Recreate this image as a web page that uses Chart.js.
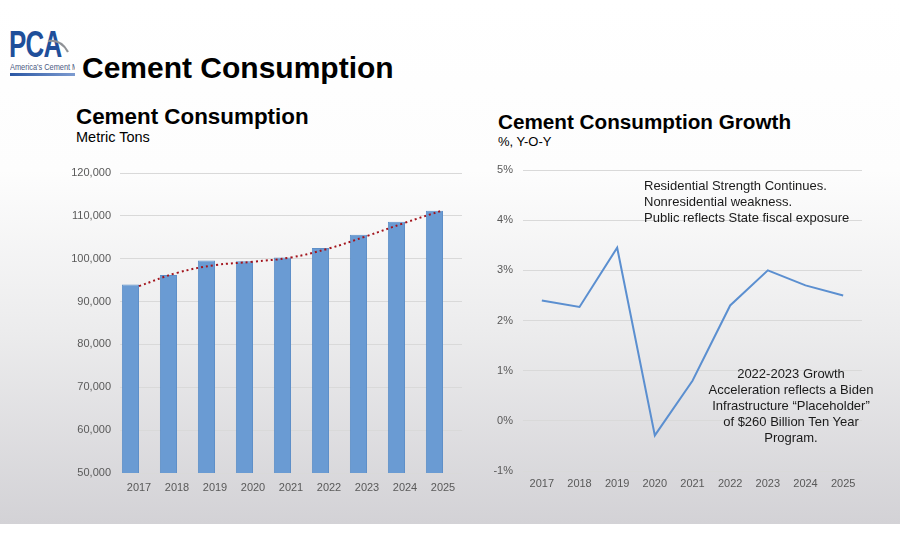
<!DOCTYPE html>
<html>
<head>
<meta charset="utf-8">
<script src="https://cdn.jsdelivr.net/npm/chart.js@4/dist/chart.umd.min.js"></script>
<style>
  body { margin: 0; background: #fff; font-family: "Liberation Sans", Arial, sans-serif; }
  #slide { position: relative; width: 900px; height: 550px; overflow: hidden; background: #fff; }
  #bg { position: absolute; left: 0; top: 0; width: 900px; height: 524px;
        background: linear-gradient(to bottom, #ffffff 0px, #fdfdfd 170px, #ececed 330px, #d3d2d6 524px); }
  .txt { position: absolute; white-space: nowrap; color: #000; }
  canvas { position: absolute; }
  .note { position: absolute; font-size: 13px; line-height: 16px; color: #1a1a1a; white-space: nowrap; }
</style>
</head>
<body>
<div id="slide">
  <div id="bg"></div>

  <!-- logo -->
  <div class="txt" style="left:9px;top:24px;font-size:37px;font-weight:bold;color:#1f4f9a;transform:scaleX(0.7);transform-origin:left top;letter-spacing:-1px;">PCA</div>
  <svg style="position:absolute;left:46px;top:36px" width="26" height="22">
    <path d="M2 5 Q15 3 22 16" stroke="#8f9296" stroke-width="2.2" fill="none"/>
  </svg>
  <div style="position:absolute;left:10px;top:62px;width:65px;height:11px;overflow:hidden;">
    <div class="txt" style="left:0;top:0;font-size:9px;color:#4b5a82;transform:scaleX(0.82);transform-origin:left top;">America's Cement Manufacturers</div>
  </div>
  <div style="position:absolute;left:10px;top:73px;width:65px;height:3px;background:linear-gradient(to right,#2a57a4,#7d9bd0);"></div>

  <div class="txt" style="left:82px;top:53px;font-size:30px;line-height:30px;font-weight:bold;">Cement Consumption</div>

  <div class="txt" style="left:76px;top:106px;font-size:22.4px;line-height:22px;font-weight:bold;">Cement Consumption</div>
  <div class="txt" style="left:76px;top:130px;font-size:14.5px;line-height:15px;">Metric Tons</div>

  <div class="txt" style="left:498px;top:111px;font-size:20.7px;line-height:21px;font-weight:bold;">Cement Consumption Growth</div>
  <div class="txt" style="left:498px;top:135px;font-size:13px;line-height:13px;">%, Y-O-Y</div>

  <canvas id="consumptionChart" width="470" height="353" style="left:0;top:150px;"></canvas>
  <canvas id="growthChart" width="420" height="351" style="left:470px;top:150px;"></canvas>

  <div class="note" style="left:644px;top:178px;">Residential Strength Continues.<br>Nonresidential weakness.<br>Public reflects State fiscal exposure</div>
  <div class="note" style="left:691px;top:366px;width:200px;text-align:center;">2022-2023 Growth<br>Acceleration reflects a Biden<br>Infrastructure “Placeholder”<br>of $260 Billion Ten Year<br>Program.</div>
</div>

<script>
const years = ['2017', '2018', '2019', '2020', '2021', '2022', '2023', '2024', '2025'];
const consumption = [94000, 96200, 99600, 99400, 100300, 102500, 105600, 108600, 111200];
const trend = [93600, 96700, 98500, 99300, 100300, 102400, 105300, 108400, 111300];
const growth = [2.4, 2.27, 3.45, -0.29, 0.8, 2.3, 3.0, 2.7, 2.5];
const emptySeries = [null, null, null, null, null, null, null, null, null];

const tickColor = '#595959';
const gridColor = '#d9d9d9';
const tickFont = { family: '"Liberation Sans", Arial, sans-serif', size: 11 };

new Chart(document.getElementById('consumptionChart').getContext('2d'), {
  type: 'bar',
  data: {
    labels: years,
    datasets: [
      {
        type: 'line',
        label: 'Trend',
        data: trend,
        borderColor: '#a3141c',
        borderWidth: 2,
        borderDash: [2, 3],
        tension: 0.4,
        pointRadius: 0,
        fill: false,
        order: 0
      },
      {
        label: 'Consumption',
        data: consumption,
        backgroundColor: '#6a9bd3',
        borderColor: '#5e8fc8',
        borderWidth: 1,
        categoryPercentage: 0.9,
        barPercentage: 1.0,
        order: 1
      },
      {
        // empty second series, keeps the bars at the left of each slot
        label: '',
        data: emptySeries,
        backgroundColor: 'rgba(0,0,0,0)',
        categoryPercentage: 0.9,
        barPercentage: 1.0,
        order: 2
      }
    ]
  },
  options: {
    responsive: false,
    animation: false,
    layout: { padding: { left: 0, right: 8, top: 23, bottom: 0 } },
    plugins: { legend: { display: false }, tooltip: { enabled: false } },
    scales: {
      x: {
        offset: true,
        grid: { display: false, drawTicks: false },
        border: { display: false },
        ticks: { color: tickColor, font: tickFont, padding: 8, maxRotation: 0 },
        afterFit: s => { s.height = 30; }
      },
      y: {
        min: 50000,
        max: 120000,
        grid: { color: gridColor, drawTicks: false },
        border: { display: false },
        ticks: {
          stepSize: 10000,
          color: tickColor,
          font: tickFont,
          padding: 9,
          callback: v => v.toLocaleString('en-US')
        },
        afterFit: s => { s.width = 120; }
      }
    }
  }
});

new Chart(document.getElementById('growthChart').getContext('2d'), {
  type: 'line',
  data: {
    labels: years,
    datasets: [{
      label: 'Growth',
      data: growth,
      borderColor: '#5b8fd0',
      borderWidth: 2,
      tension: 0,
      pointRadius: 0,
      fill: false
    }]
  },
  options: {
    responsive: false,
    animation: false,
    layout: { padding: { left: 0, right: 28, top: 20, bottom: 0 } },
    plugins: { legend: { display: false }, tooltip: { enabled: false } },
    scales: {
      x: {
        offset: true,
        grid: { display: false, drawTicks: false },
        border: { display: false },
        ticks: { color: tickColor, font: tickFont, padding: 6, maxRotation: 0 },
        afterFit: s => { s.height = 30; }
      },
      y: {
        min: -1,
        max: 5,
        grid: { color: gridColor, drawTicks: false },
        border: { display: false },
        ticks: {
          stepSize: 1,
          color: tickColor,
          font: tickFont,
          padding: 10,
          callback: v => v + '%'
        },
        afterFit: s => { s.width = 53; }
      }
    }
  }
});
</script>
</body>
</html>
